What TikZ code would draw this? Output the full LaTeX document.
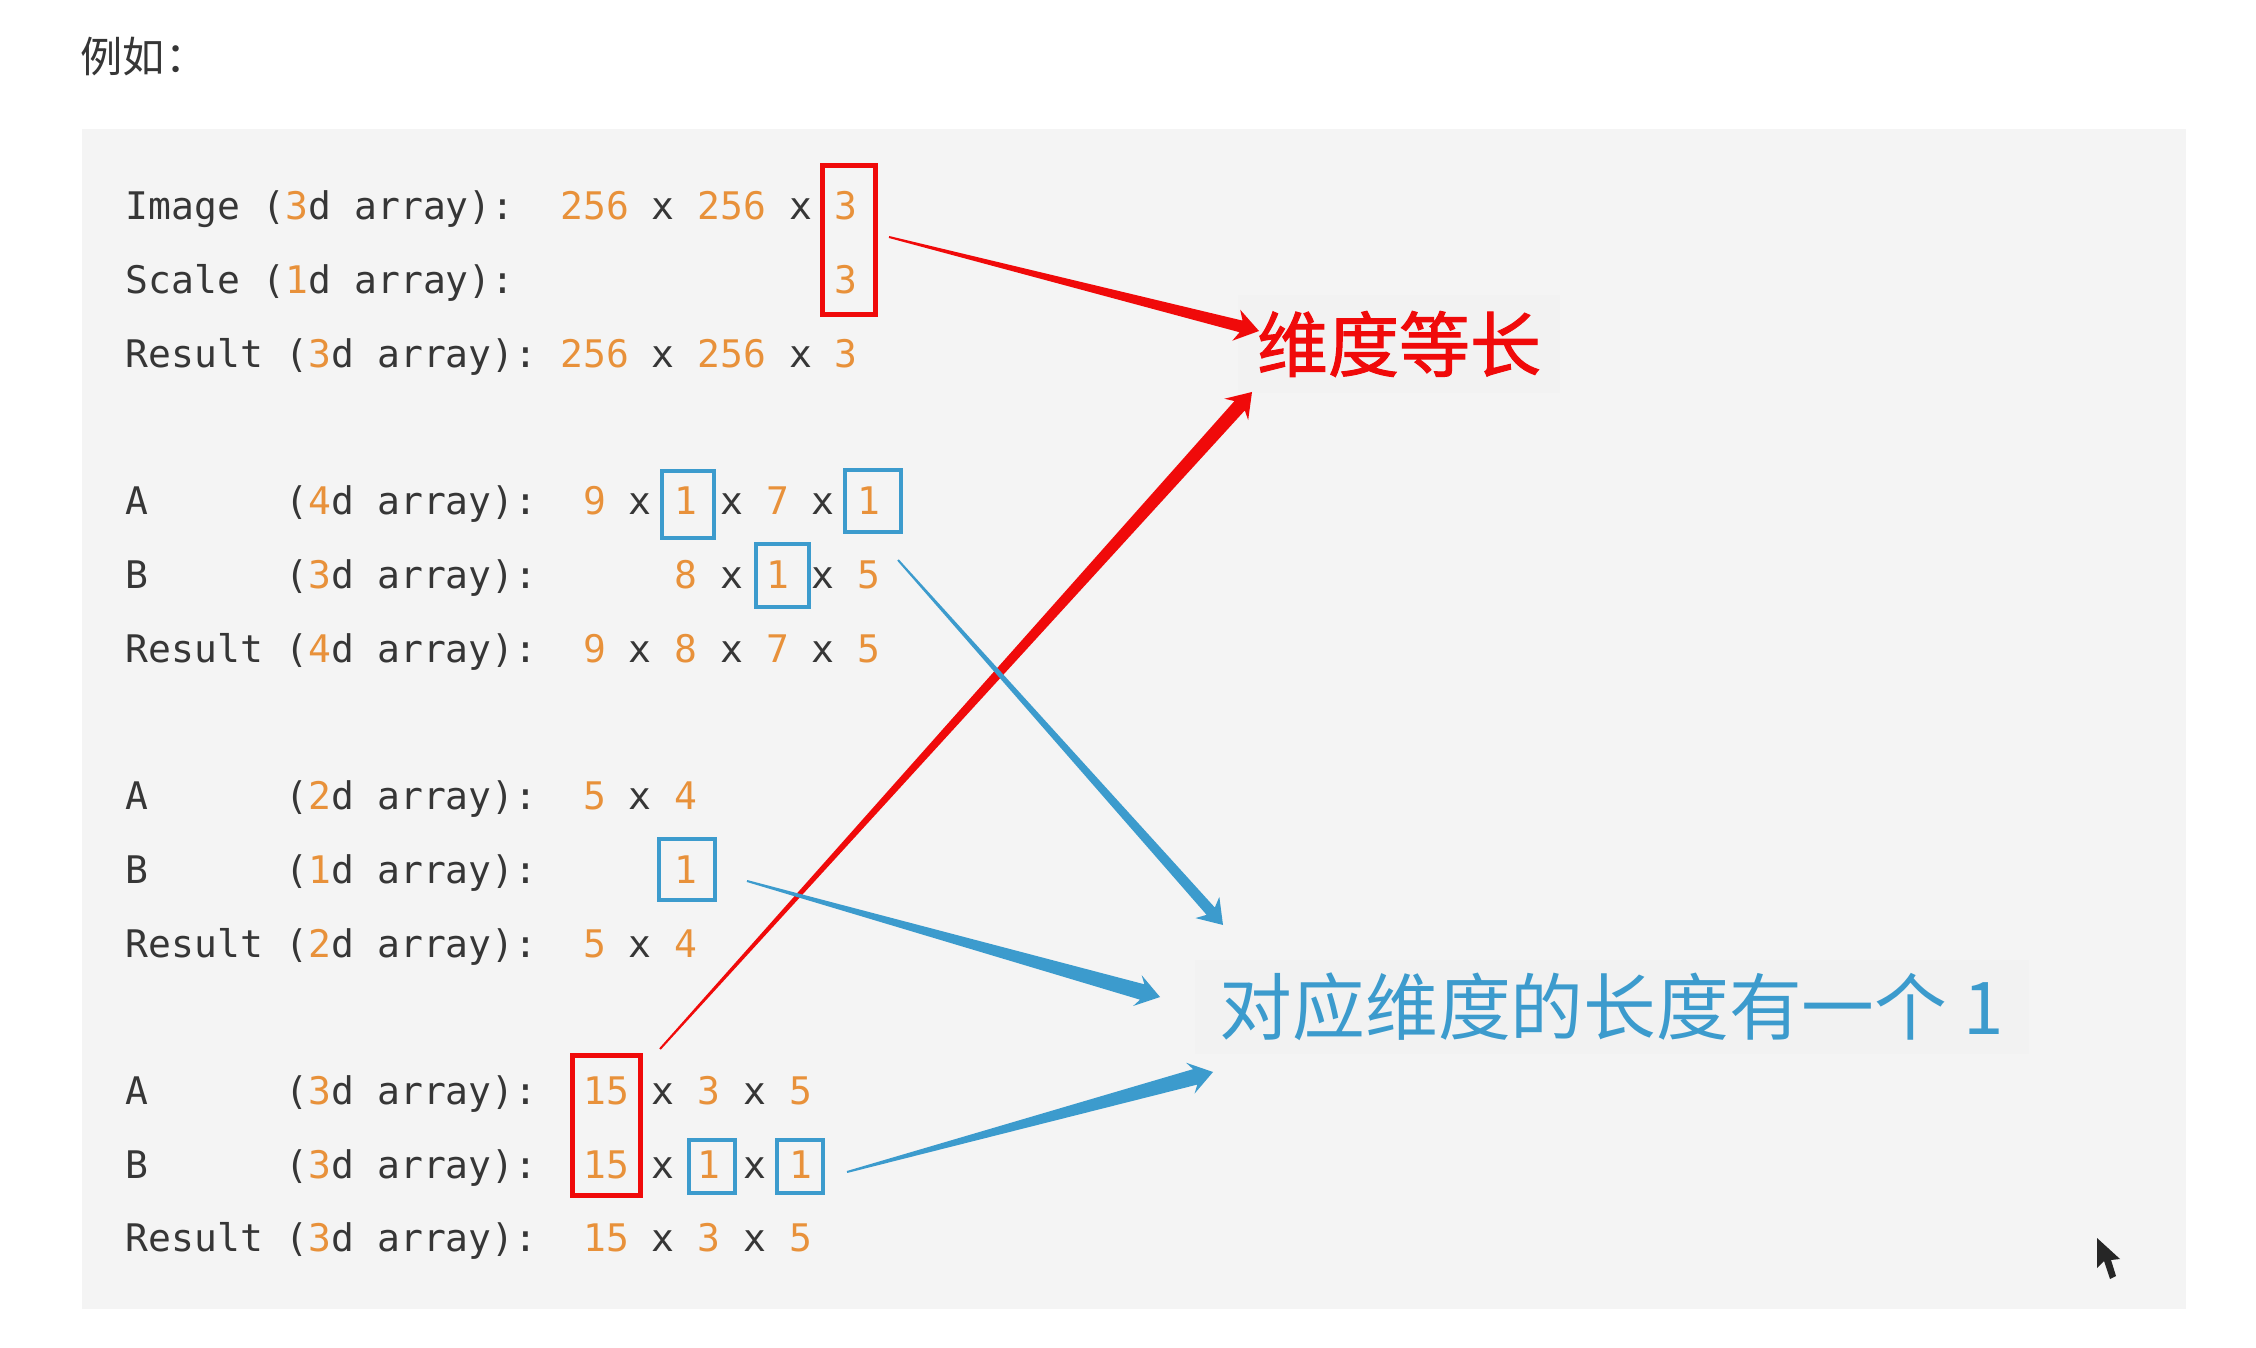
\documentclass[tikz,border=0pt]{standalone}
\usepackage{fontspec}
\usepackage{xcolor}
\usepackage{tikz}
\usetikzlibrary{positioning,calc}
\newfontfamily\cjk{Noto Sans CJK SC}
\newfontfamily\cjkheavy[FakeBold=1.4]{Noto Sans CJK SC}
\newfontfamily\codefont{DejaVu Sans Mono}
\definecolor{panel}{HTML}{F4F4F4}
\definecolor{labelbg}{HTML}{F2F2F2}
\definecolor{codetext}{HTML}{363636}
\definecolor{numorange}{HTML}{E8913A}
\definecolor{markred}{HTML}{F00A0A}
\definecolor{markblue}{HTML}{3C9BCD}
\newcommand{\num}[1]{\textcolor{numorange}{#1}}
% tapered hand-drawn arrow: [tail half-width]{colour}{tail}{tip}{shaft half-width}
\newcommand{\callout}[5][0.1mm]{%
  \coordinate (cbase) at ($(#4)!1.85mm!(#3)$);
  \coordinate (cbarb) at ($(#4)!2.35mm!(#3)$);
  \fill[#2] ($(#3)!#1!90:(#4)$) -- ($(cbase)!#5!-90:(#3)$)
    -- ($(cbarb)!1.6mm!-90:(#3)$) -- (#4)
    -- ($(cbarb)!1.6mm!90:(#3)$) -- ($(cbase)!#5!90:(#3)$)
    -- ($(#3)!#1!-90:(#4)$) -- cycle;
}

\begin{document}
\begin{tikzpicture}[x=0.1mm,y=-0.1mm,
  code/.style={anchor=base west,inner sep=0pt,text=codetext,
    font=\codefont\fontsize{10.81pt}{13pt}\selectfont},
  redmark/.style={draw=markred,line width=1.4pt,inner sep=0pt},
  bluemark/.style={draw=markblue,line width=1.15pt,inner sep=0pt},
  tag/.style={fill=labelbg,inner ysep=1.6mm,font=\cjk\fontsize{20.2pt}{24pt}\selectfont}]
  \useasboundingbox (0,0) rectangle (2256,1348);
  \fill[white] (0,0) rectangle (2256,1348);
  % panel
  \fill[panel] (82,129) rectangle (2186,1309);
  \node[anchor=west,inner sep=0pt,text=codetext,font=\cjk\fontsize{12pt}{14pt}\selectfont] (intro) at (80,57) {例如：};

  % code lines
  \node[code] (imgA) at (125,220.0) {Image~(\num{3}d~array):~~\num{256}~x~\num{256}~x~\num{3}};
  \node[code] (imgB) at (125,293.7) {Scale~(\num{1}d~array):~~~~~~~~~~~~~~\num{3}};
  \node[code] (imgR) at (125,367.4) {Result~(\num{3}d~array):~\num{256}~x~\num{256}~x~\num{3}};
  \node[code] (fourA) at (125,514.8) {A~~~~~~(\num{4}d~array):~~\num{9}~x~\num{1}~x~\num{7}~x~\num{1}};
  \node[code] (fourB) at (125,588.5) {B~~~~~~(\num{3}d~array):~~~~~~\num{8}~x~\num{1}~x~\num{5}};
  \node[code] (fourR) at (125,662.2) {Result~(\num{4}d~array):~~\num{9}~x~\num{8}~x~\num{7}~x~\num{5}};
  \node[code] (twoA) at (125,809.6) {A~~~~~~(\num{2}d~array):~~\num{5}~x~\num{4}};
  \node[code] (twoB) at (125,883.3) {B~~~~~~(\num{1}d~array):~~~~~~\num{1}};
  \node[code] (twoR) at (125,957.0) {Result~(\num{2}d~array):~~\num{5}~x~\num{4}};
  \node[code] (threeA) at (125,1104.4) {A~~~~~~(\num{3}d~array):~~\num{15}~x~\num{3}~x~\num{5}};
  \node[code] (threeB) at (125,1178.1) {B~~~~~~(\num{3}d~array):~~\num{15}~x~\num{1}~x~\num{1}};
  \node[code] (threeR) at (125,1251.8) {Result~(\num{3}d~array):~~\num{15}~x~\num{3}~x~\num{5}};

  % marked dimensions
  \node[redmark,minimum width=5.3mm,minimum height=14.9mm] (chan) at (849,240) {};
  \node[redmark,minimum width=6.8mm,minimum height=14mm] (fifteen) at (606.5,1125.5) {};
  \node[bluemark,minimum width=5.2mm,minimum height=6.7mm] (oneA) at (688,504.5) {};
  \node[bluemark,minimum width=5.6mm,minimum height=6.2mm] (oneB) at (873,501) {};
  \node[bluemark,minimum width=5.3mm,minimum height=6.3mm] (oneC) at (782.5,575.5) {};
  \node[bluemark,minimum width=5.6mm,minimum height=6.1mm] (oneD) at (687,869.5) {};
  \node[bluemark,minimum width=4.6mm,minimum height=5.3mm] (oneE) at (712,1166.5) {};
  \node[bluemark,minimum width=4.6mm,minimum height=5.3mm] (oneF) at (800,1166.5) {};

  % labels
  \node[tag,text=markred,inner xsep=1.9mm,font=\cjkheavy\fontsize{20.2pt}{24pt}\selectfont] (same) at (1399,344) {维度等长};
  \node[tag,text=markblue,inner xsep=2.5mm,inner ysep=1.3mm,font=\cjk\fontsize{20.7pt}{24pt}\selectfont] (hasone) at (1612,1007) {对应维度的长度有一个 1};

  % arrows
  \coordinate (redtailA) at (889,237);
  \coordinate (redtipA) at (1259,331);
  \coordinate (redtailB) at (660,1049);
  \coordinate (redtipB) at (1252,392);
  \coordinate (bluetailA) at (898,560);
  \coordinate (bluetipA) at (1223,925);
  \coordinate (bluetailB) at (747,881);
  \coordinate (bluetipB) at (1160,997);
  \coordinate (bluetailC) at (847,1172);
  \coordinate (bluetipC) at (1213,1072);
  \callout{markred}{redtailA}{redtipA}{0.6mm}
  \callout{markred}{redtailB}{redtipB}{0.7mm}
  \callout{markblue}{bluetailA}{bluetipA}{0.55mm}
  \callout{markblue}{bluetailB}{bluetipB}{0.8mm}
  \callout{markblue}{bluetailC}{bluetipC}{0.8mm}

  % mouse pointer
  \fill[black!85] (2097,1238) -- (2097,1268) -- (2104,1261) -- (2110,1279)
    -- (2116,1276) -- (2111,1260) -- (2120,1259) -- cycle;
\end{tikzpicture}
\end{document}
